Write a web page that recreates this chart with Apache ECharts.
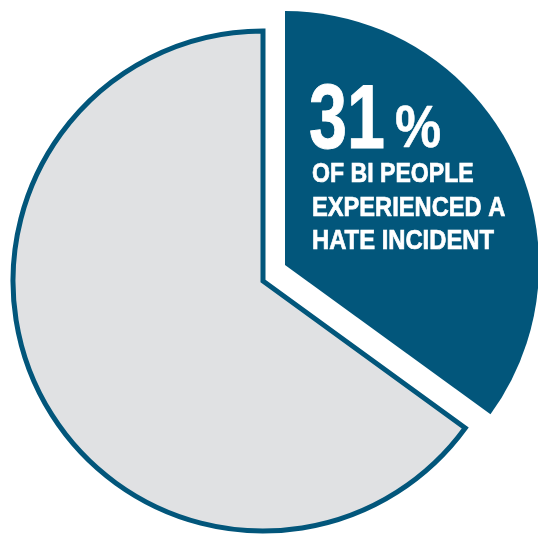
<!DOCTYPE html>
<html>
<head>
<meta charset="utf-8">
<script src="https://cdn.jsdelivr.net/npm/echarts@6/dist/echarts.min.js"></script>
<style>
html,body{margin:0;padding:0;background:#fff;}
#chart{width:538px;height:534px;}
</style>
</head>
<body>
<div id="chart"></div>
<script>
// Data as drawn in the reference (the highlighted slice is drawn at about 35% of the circle)
const categories = ['Experienced a hate incident', 'Did not'];
const sliceValues = [35, 65];
const headline = '31';
const headlineUnit = '%';
const captionLines = ['OF BI PEOPLE', 'EXPERIENCED A', 'HATE INCIDENT'];

const BLUE = '#02567b';
const GREY = '#e0e1e3';
const FONT = '"Liberation Sans", Arial, sans-serif';

const chart = echarts.init(document.getElementById('chart'), null, {renderer: 'canvas'});

function mk(showIdx, style) {
  return categories.map((c, i) => ({
    name: c,
    value: sliceValues[i],
    itemStyle: i === showIdx ? style : {color: 'rgba(0,0,0,0)', borderWidth: 0}
  }));
}

const common = {
  type: 'pie',
  startAngle: 90,
  clockwise: true,
  label: {show: false},
  labelLine: {show: false},
  silent: true,
  emphasis: {disabled: true}
};

function txt(x, y, s, size, sx, bw) {
  return {type: 'text', z: 100, zlevel: 1, x: x, y: y, scaleX: sx, silent: true,
    style: {text: s, font: 'bold ' + size + 'px ' + FONT, fill: '#ffffff', align: 'left', verticalAlign: 'middle',
      stroke: '#ffffff', lineWidth: bw || 0}};
}

chart.setOption({
  animation: false,
  series: [
    Object.assign({}, common, {
      center: [263, 281],
      radius: [0, 250],
      data: mk(1, {color: GREY, borderColor: BLUE, borderWidth: 5, borderJoin: 'miter'})
    }),
    Object.assign({}, common, {
      center: [285, 265],
      radius: [0, 254],
      data: mk(0, {color: BLUE, borderWidth: 0})
    })
  ],
  graphic: [
    txt(309, 122.5, headline, 91, 0.75, 1),
    txt(395, 131, headlineUnit, 59, 0.88, 0.5),
    txt(312, 174, captionLines[0], 28, 0.825, 0.7),
    txt(312, 208, captionLines[1], 28, 0.845, 0.7),
    txt(312, 241, captionLines[2], 28, 0.85, 0.7)
  ]
});
</script>
</body>
</html>
